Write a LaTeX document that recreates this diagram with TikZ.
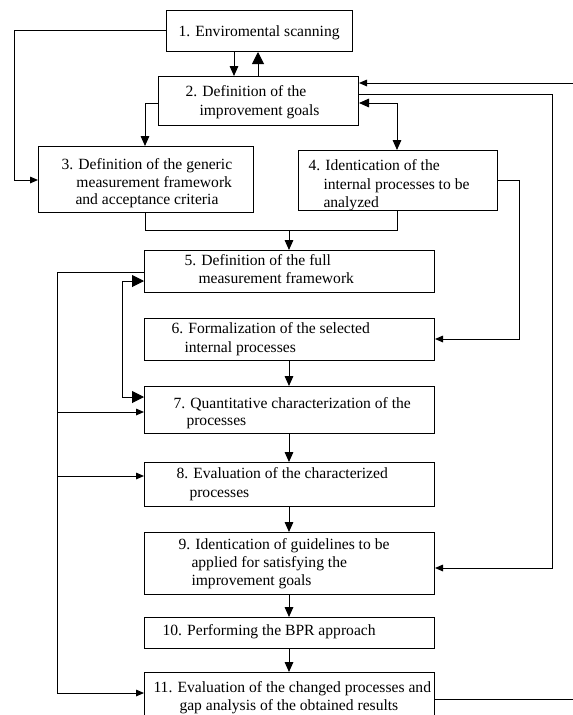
\documentclass[tikz,border=0pt]{standalone}
\usepackage{fontspec}
\setmainfont{Liberation Serif}
\usetikzlibrary{arrows.meta}
\newcommand\mybox[5]{\node[box, minimum width={(#4-#2)*0.75pt}, minimum height={(#5-#3)*0.75pt}] (#1) at (#2,#3) {};}
\begin{document}
\begin{tikzpicture}[x=0.75pt,y=-0.75pt, line width=0.75pt,
 box/.style={draw, rectangle, inner sep=0pt, anchor=north west},
 lbl/.style={anchor=base west, inner sep=0pt, font=\fontsize{11.7}{13.8}\selectfont},
 sa/.style={-{Triangle[length=6pt,width=5pt]}},
 ma/.style={-{Triangle[length=7.5pt,width=6.5pt]}},
 la/.style={-{Triangle[length=9pt,width=9pt]}},
 mm/.style={{Triangle[length=7.5pt,width=6.5pt]}-{Triangle[length=7.5pt,width=6.5pt]}},
 ll/.style={{Triangle[length=9pt,width=9pt]}-{Triangle[length=9pt,width=9pt]}},
]
\useasboundingbox (0,0) rectangle (573,715);
\clip (0,0) rectangle (573,715);
\coordinate (inR) at (573,83);
\coordinate (outR) at (573,699);
% boxes
\mybox{b1}{166}{10}{352}{51}
\mybox{b2}{158}{76}{358}{125}
\mybox{b3}{38}{146}{253}{212}
\mybox{b4}{298}{150}{497}{210}
\mybox{b5}{144}{250}{434}{292}
\mybox{b6}{144}{318}{434}{360}
\mybox{b7}{144}{386}{434}{433}
\mybox{b8}{144}{462}{434}{506}
\mybox{b9}{144}{532}{434}{594}
\mybox{b10}{144}{617}{434}{648}
\mybox{b11}{144}{672}{434}{730}
% texts
\node[lbl] (t1) at (178,36) {1. Enviromental scanning};
\node[lbl] (t2a) at (185,96) {2. Definition of the};
\node[lbl] (t2b) at (199,115) {improvement goals};
\node[lbl] (t3a) at (61,169) {3. Definition of the generic};
\node[lbl] (t3b) at (76,187) {measurement framework};
\node[lbl] (t3c) at (75,204) {and acceptance criteria};
\node[lbl] (t4a) at (308,170) {4. Identication of the};
\node[lbl] (t4b) at (323,189) {internal processes to be};
\node[lbl] (t4c) at (323,207) {analyzed};
\node[lbl] (t5a) at (184,265) {5. Definition of the full};
\node[lbl] (t5b) at (198,283) {measurement framework};
\node[lbl] (t6a) at (171,333) {6. Formalization of the selected};
\node[lbl] (t6b) at (184,352) {internal processes};
\node[lbl] (t7a) at (173,408) {7. Quantitative characterization of the};
\node[lbl] (t7b) at (186,425) {processes};
\node[lbl] (t8a) at (176,478) {8. Evaluation of the characterized};
\node[lbl] (t8b) at (189,497) {processes};
\node[lbl] (t9a) at (178,549) {9. Identication of guidelines to be};
\node[lbl] (t9b) at (191,567) {applied for satisfying the};
\node[lbl] (t9c) at (191,585) {improvement goals};
\node[lbl] (t10) at (162,635) {10. Performing the BPR approach};
\node[lbl] (t11a) at (153,692) {11. Evaluation of the changed processes and};
\node[lbl] (t11b) at (179,710) {gap analysis of the obtained results};
% connectors
\draw[ma] (b1.south -| 234,0) -- (b2.north -| 234,0);
\draw[la] (b2.north -| 258,0) -- (b1.south -| 258,0);
\draw[sa] (b1.west |- 0,30) -- (14,30) |- (b3.west |- 0,180);
\draw[ma] (b2.west |- 0,103) -| (b3.north -| 145,0);
\draw[mm] (b2.east |- 0,103) -| (b4.north -| 397,0);
\draw[sa] (inR) -- (b2.east |- inR);
\draw[sa] (b2.east |- 0,94) -- (552,94) |- (b9.east |- 0,568);
\draw[sa] (b4.east |- 0,180) -- (519,180) |- (b6.east |- 0,339);
\draw (b3.south -| 145,0) |- (397,230) -- (b4.south -| 397,0);
\draw[ma] (289,230) -- (b5.north -| 289,0);
\draw[ma] (b6.south -| 289,0) -- (b7.north -| 289,0);
\draw[ma] (b7.south -| 289,0) -- (b8.north -| 289,0);
\draw[ma] (b8.south -| 289,0) -- (b9.north -| 289,0);
\draw[ma] (b9.south -| 289,0) -- (b10.north -| 289,0);
\draw[ma] (b10.south -| 289,0) -- (b11.north -| 289,0);
\draw[sa] (b5.west |- 0,272) -| (57,693) -- (b11.west |- 0,693);
\draw[sa] (57,412) -- (b7.west |- 0,412);
\draw[sa] (57,476) -- (b8.west |- 0,476);
\draw[ll] (b5.west |- 0,281) -| (122,397) -- (b7.west |- 0,397);
\draw (b11.east |- outR) -- (outR);
\end{tikzpicture}
\end{document}
